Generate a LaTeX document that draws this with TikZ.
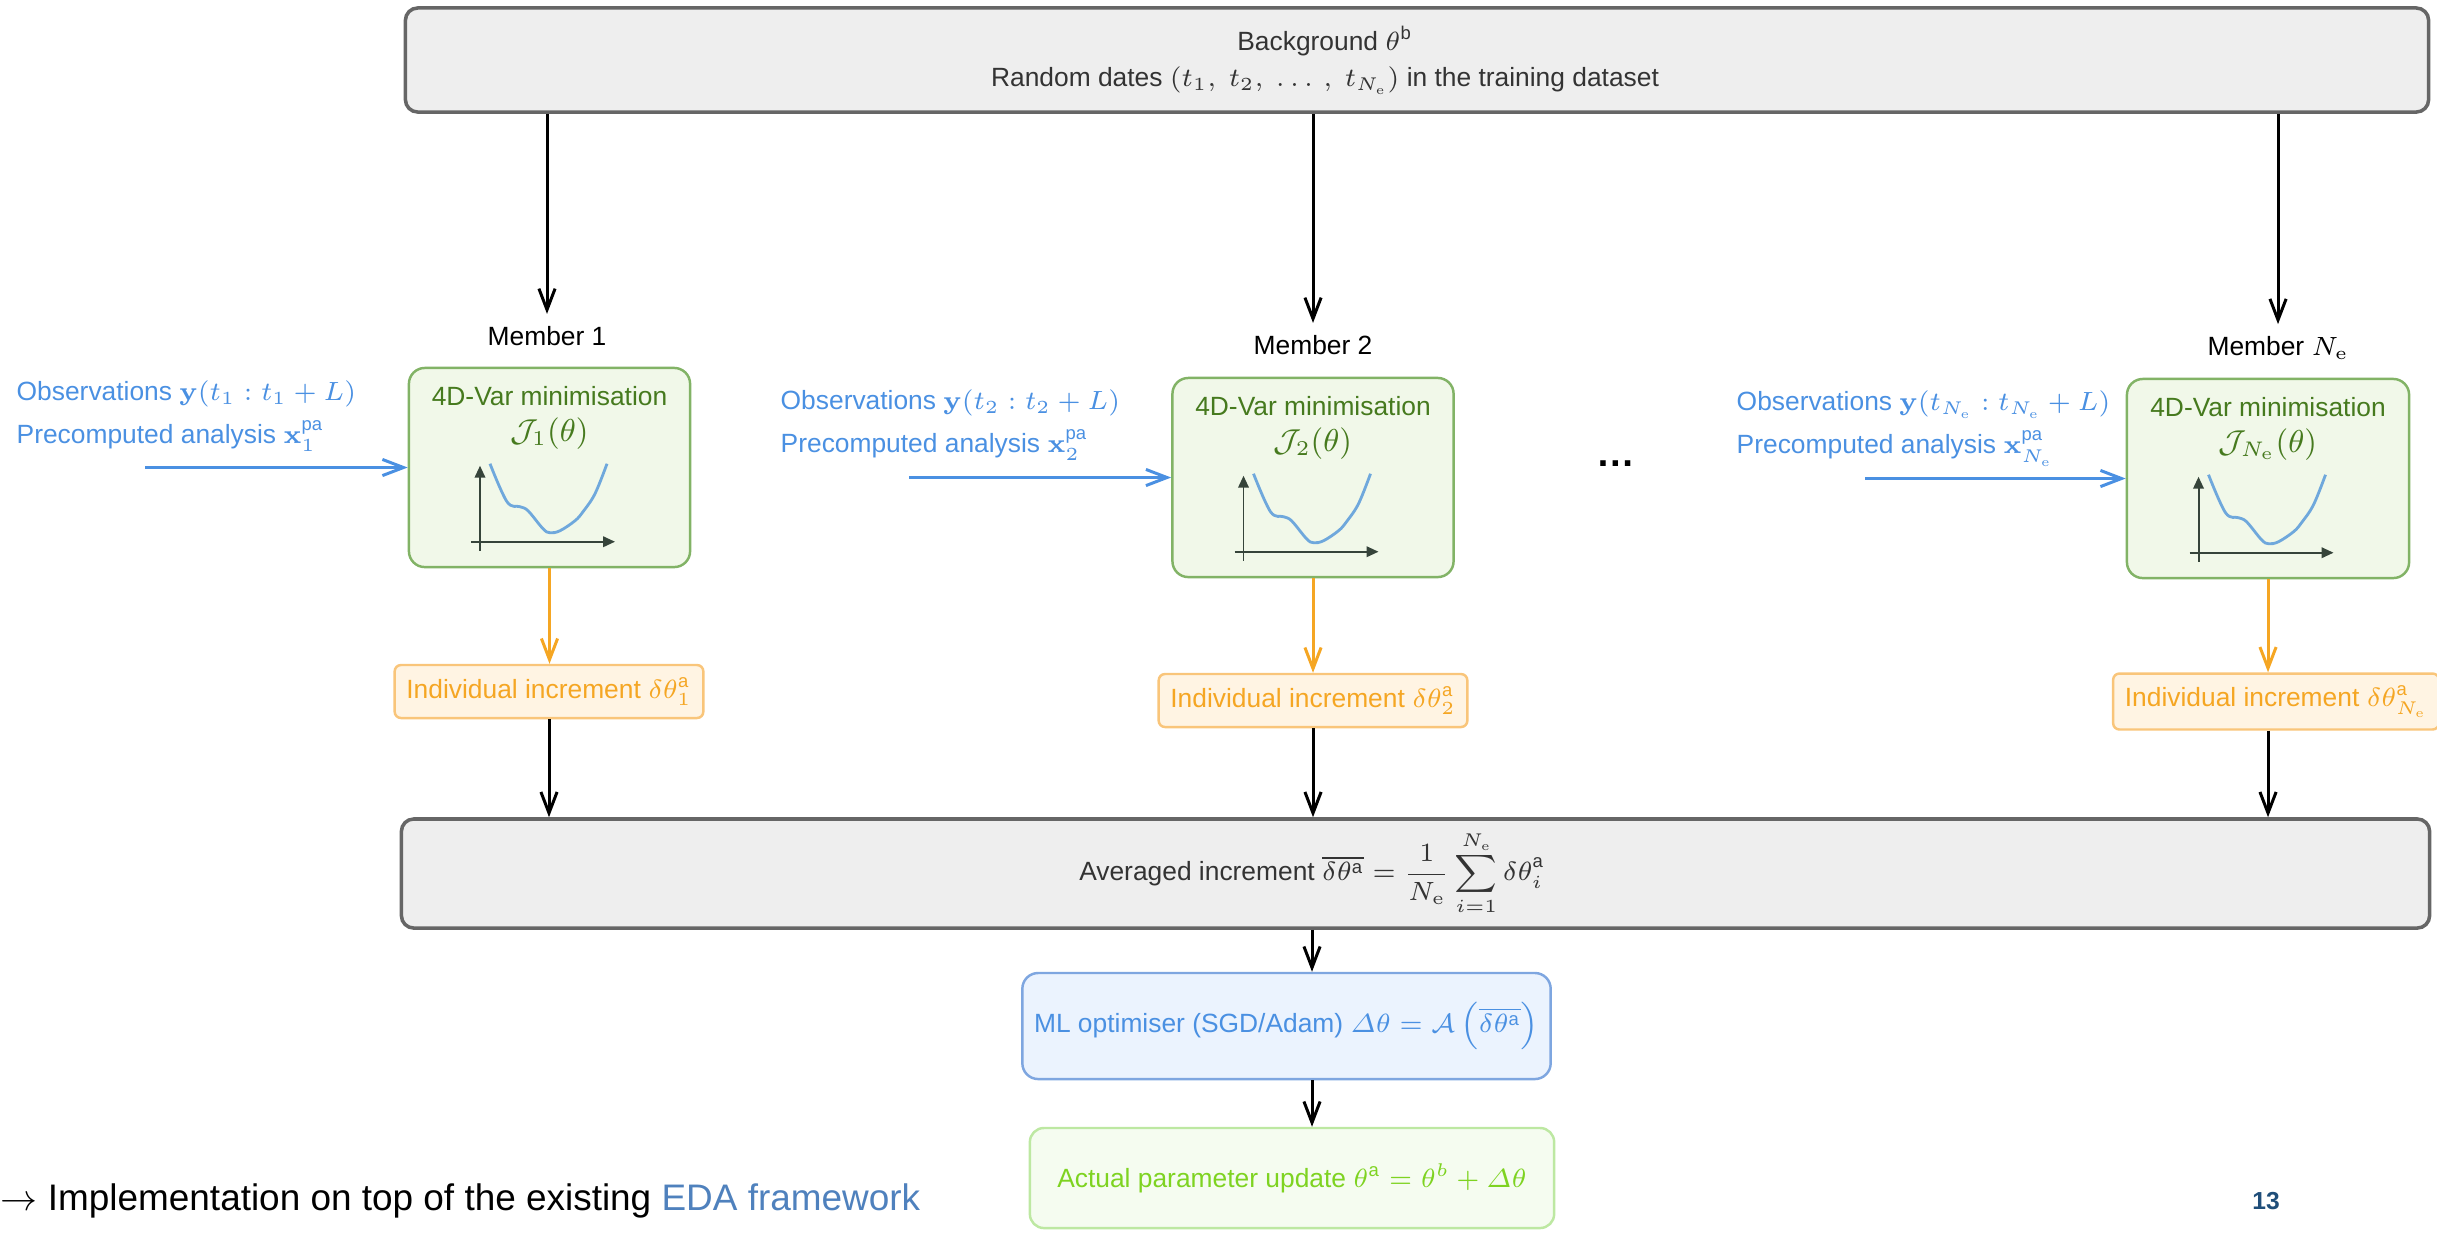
\RequirePackage{fix-cm}
\documentclass[tikz,border=0pt]{standalone}
\usepackage{amsmath}
\usepackage[no-math]{fontspec}
\setmainfont{Liberation Sans}
\usetikzlibrary{arrows.meta, positioning, calc}

\definecolor{boxfill}{HTML}{EEEEEE}
\definecolor{boxline}{HTML}{666666}
\definecolor{textgray}{HTML}{333333}
\definecolor{memfill}{HTML}{F1F8E9}
\definecolor{memline}{HTML}{82B366}
\definecolor{memtext}{HTML}{467A1E}
\definecolor{incfill}{HTML}{FFF4E3}
\definecolor{incline}{HTML}{F9C57A}
\definecolor{incorange}{HTML}{F5A623}
\definecolor{obsblue}{HTML}{4A90E2}
\definecolor{optfill}{HTML}{EBF3FE}
\definecolor{optline}{HTML}{7EA6E0}
\definecolor{updfill}{HTML}{F5FCF0}
\definecolor{updline}{HTML}{BDE8A2}
\definecolor{updtext}{HTML}{7ED321}
\definecolor{icogray}{HTML}{36443A}
\definecolor{costblue}{HTML}{6FA8DC}
\definecolor{edablue}{HTML}{4F81BD}
\definecolor{pagenum}{HTML}{1F4E79}

\begin{document}
\begin{tikzpicture}[x=0.01cm, y=-0.01cm,
  every node/.style={font=\fontsize{7.5}{9}\selectfont},
  arr/.style={-{Straight Barb[length=6pt,width=4.6pt]}, line width=0.85pt},
  orarr/.style={arr, draw=incorange},
  inarr/.style={arr, draw=obsblue},
  graybox/.style={rectangle, rounded corners=3.5pt, draw=boxline, line width=1pt, fill=boxfill},
  membox/.style={rectangle, rounded corners=4.5pt, draw=memline, line width=0.7pt, fill=memfill, minimum width=2.81cm, minimum height=1.99cm},
  incbox/.style={rectangle, rounded corners=1.8pt, draw=incline, line width=0.7pt, fill=incfill, text=incorange, minimum height=0.53cm},
  optbox/.style={rectangle, rounded corners=4.5pt, draw=optline, line width=0.7pt, fill=optfill, text=obsblue},
  updbox/.style={rectangle, rounded corners=4pt, draw=updline, line width=0.7pt, fill=updfill, text=updtext},
  obs/.style={anchor=west, align=left, inner sep=0pt, text=obsblue},
  memtxt/.style={text=memtext},
  icoaxis/.style={-{Triangle[length=3.4pt,width=3pt]}, line width=0.55pt, draw=icogray},
  cost/.style={line width=0.8pt, draw=costblue},
]
  \clip (0,0) rectangle (2437,1232);

  % background and dates
  \node[graybox, minimum width=20.22cm, minimum height=1.04cm] (bg) at (1417,60) {};
  \node[text=textgray, align=center] (bgtxt) at (1325,60) {Background $\theta^{\text{b}}$\\[1.2pt]
    Random dates $(t_1,\ t_2,\ \ldots\,,\ t_{N_{\mathrm{e}}})$ in the training dataset};

  % members
  \node (lab1) at (547,336) {Member 1};
  \node (lab2) at (1313,345) {Member 2};
  \node (lab3) at (2278,348) {Member $N_{\mathrm{e}}$};

  \node[membox] (g1) at (549.5,467.5) {};
  \node[membox] (g2) at (1313,477.5) {};
  \node[membox, minimum width=2.82cm] (g3) at (2268,478.5) {};

  \node[memtxt] (g1t) at (549.5,396) {4D-Var minimisation};
  \node[memtxt, font=\fontsize{9}{11}\selectfont] (g1j) at (549.5,434) {$\mathcal{J}_1(\theta)$};
  \node[memtxt] (g2t) at (1313,406) {4D-Var minimisation};
  \node[memtxt, font=\fontsize{9}{11}\selectfont] (g2j) at (1313,444) {$\mathcal{J}_2(\theta)$};
  \node[memtxt] (g3t) at (2268,407) {4D-Var minimisation};
  \node[memtxt, font=\fontsize{9}{11}\selectfont] (g3j) at (2268,445) {$\mathcal{J}_{N_{\mathrm{e}}}(\theta)$};

  \foreach \g in {g1,g2,g3} {
    \begin{scope}[shift={(\g.north)}]
      \draw[icoaxis] (-69.5,184) -- (-69.5,99);
      \draw[icoaxis] (-78.5,175) -- (65.5,175);
      \draw[cost] plot[smooth, tension=0.6] coordinates {(-59.5,97) (-42.5,135) (-29.5,140) (-21.5,144)
        (-6.5,162) (0.5,166) (10.5,164) (25.5,154) (33.5,145) (45.5,127) (57.5,97)};
    \end{scope}
  }

  % observations
  \node[obs] (obs1) at (16,416.5) {Observations $\mathbf{y}(t_1 : t_1 + L)$\\[3.2pt]
    Precomputed analysis $\mathbf{x}_1^{\text{pa}}$};
  \node[obs] (obs2) at (780,425) {Observations $\mathbf{y}(t_2 : t_2 + L)$\\[3.2pt]
    Precomputed analysis $\mathbf{x}_2^{\text{pa}}$};
  \node[obs] (obs3) at (1736,428.5) {Observations $\mathbf{y}(t_{N_{\mathrm{e}}} : t_{N_{\mathrm{e}}} + L)$\\[3.2pt]
    Precomputed analysis $\mathbf{x}_{N_{\mathrm{e}}}^{\text{pa}}$};
  \coordinate (in1) at (145,467.5);
  \coordinate (in2) at (909,477.5);
  \coordinate (in3) at (1865,478.5);

  \node[font=\fontsize{11}{12}\selectfont\bfseries, anchor=base] (dots) at (1616,466) {\ldots};

  % increments
  \node[incbox, minimum width=3.0cm] (o1) at (549,691.5) {Individual increment $\delta\theta^{\text{a}}_1$};
  \node[incbox, minimum width=3.02cm] (o2) at (1313,700.5) {Individual increment $\delta\theta^{\text{a}}_2$};
  \node[incbox, minimum width=3.12cm] (o3) at (2276,701.5) {Individual increment $\delta\theta^{\text{a}}_{N_{\mathrm{e}}}$};

  \node[graybox, minimum width=20.27cm, minimum height=1.09cm] (avg) at (1415.5,873.5) {};
  \node[text=textgray] (avgtxt) at (1312,873) {Averaged increment
    $\overline{\delta\theta^{\text{a}}} = \displaystyle\frac{1}{N_{\mathrm{e}}}\sum_{i=1}^{N_{\mathrm{e}}}\delta\theta^{\text{a}}_i$};

  \node[optbox, minimum width=5.25cm, minimum height=1.06cm] (ml) at (1286.5,1026)
    {ML optimiser (SGD/Adam) $\varDelta\theta = \mathcal{A}\left(\overline{\delta\theta^{\text{a}}}\right)$};
  \node[updbox, minimum width=5.24cm, minimum height=1.0cm] (upd) at (1292,1178)
    {Actual parameter update $\theta^{\text{a}} = \theta^{b} + \varDelta\theta$};

  \node[anchor=west, inner sep=0pt, font=\fontsize{10.5}{12}\selectfont] (impl) at (0,1201)
    {$\rightarrow$ Implementation on top of the existing \textcolor{edablue}{EDA framework}};
  \node[font=\fontsize{7}{8}\selectfont\bfseries, text=pagenum] (pg) at (2266,1201) {13};

  % connectors
  \draw[arr] (bg.south -| lab1) -- (lab1.north);
  \draw[arr] (bg.south -| lab2) -- (lab2.north);
  \draw[arr] (bg.south -| lab3) -- (lab3.north);

  \draw[inarr] (in1) -- (g1.west);
  \draw[inarr] (in2) -- (g2.west);
  \draw[inarr] (in3) -- (g3.west);

  \draw[orarr] (g1.south) -- (g1.south |- o1.north);
  \draw[orarr] (g2.south) -- (g2.south |- o2.north);
  \draw[orarr] (g3.south) -- (g3.south |- o3.north);

  \draw[arr] (o1.south) -- (o1.south |- avg.north);
  \draw[arr] (o2.south) -- (o2.south |- avg.north);
  \draw[arr] (o3.south -| g3) -- (g3 |- avg.north);

  \draw[arr] (avg.south -| avgtxt) -- (ml.north -| avgtxt);
  \draw[arr] (ml.south -| avgtxt) -- (upd.north -| avgtxt);
\end{tikzpicture}
\end{document}
